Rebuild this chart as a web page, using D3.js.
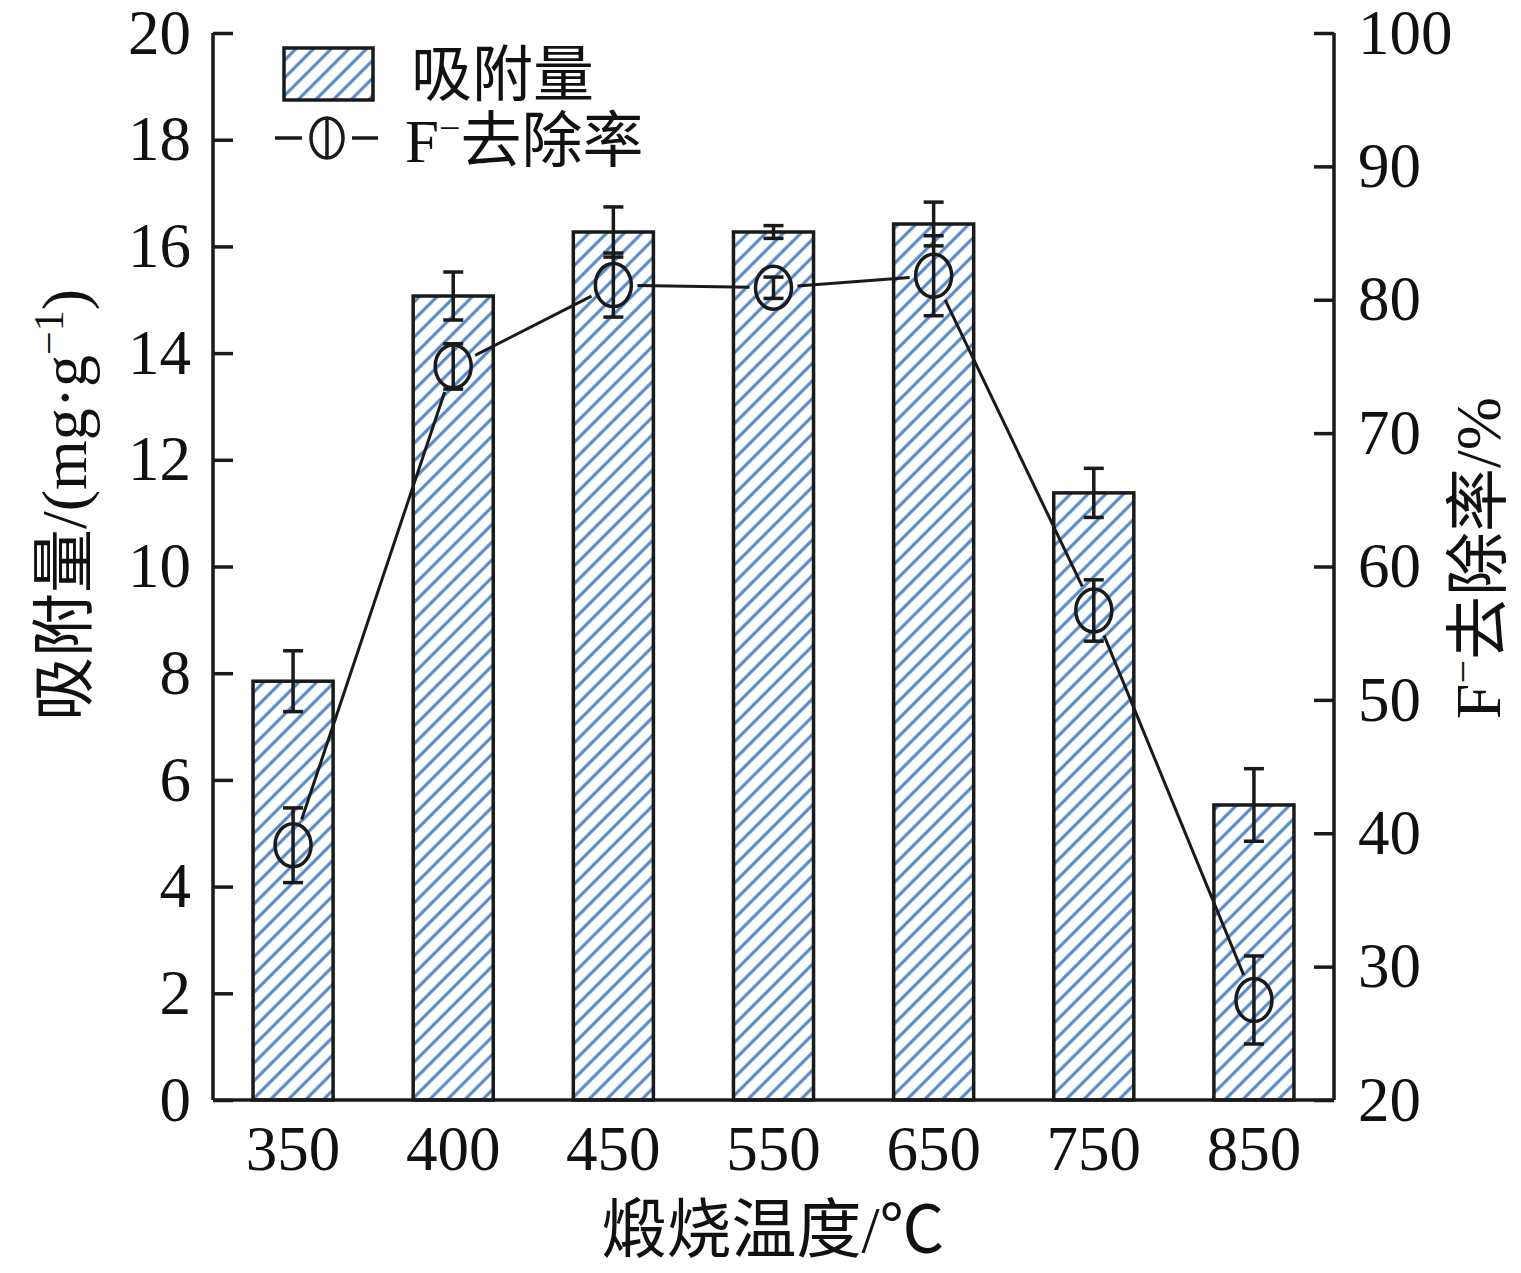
<!DOCTYPE html>
<html><head><meta charset="utf-8">
<script src="https://cdn.jsdelivr.net/npm/d3@7"></script>
<style>
body{margin:0;background:#fff;}
text{font-family:"Liberation Serif","Times New Roman","Noto Sans CJK SC",serif;fill:#111;}
</style></head>
<body>
<svg id="c" width="1521" height="1273"></svg>
<script>
const categories = ["350","400","450","550","650","750","850"];
const adsorption = [7.85, 15.07, 16.27, 16.27, 16.42, 11.38, 5.53];
const adsorptionErr = [0.57, 0.45, 0.47, 0.12, 0.41, 0.46, 0.68];
const removal = [39.1, 75.0, 81.1, 80.9, 81.8, 56.7, 27.5];
const removalErr = [2.8, 1.7, 2.4, 0.8, 3.0, 2.3, 3.3];
const leftTicks = [0,2,4,6,8,10,12,14,16,18,20];
const rightTicks = [20,30,40,50,60,70,80,90,100];

const svg = d3.select("#c");
const L = 213, R = 1334, T = 33, B = 1100;
const ink = "#1a1a1a";
const hatch = "#5b8cc8";
const SW = 3.5;

const x = d3.scaleBand().domain(categories).range([L, R]).paddingInner(0.5).paddingOuter(0.25);
const yL = d3.scaleLinear().domain([0,20]).range([B, T]);
const yR = d3.scaleLinear().domain([20,100]).range([B, T]);

// hatch pattern
const P = 12.5;
const defs = svg.append("defs");
const pat = defs.append("pattern").attr("id","hatch").attr("patternUnits","userSpaceOnUse")
  .attr("width",P).attr("height",P).attr("patternTransform","rotate(45)");
pat.append("rect").attr("width",P).attr("height",P).attr("fill","#fff");
pat.append("line").attr("x1",P/2).attr("y1",0).attr("x2",P/2).attr("y2",P)
  .attr("stroke",hatch).attr("stroke-width",3.2);

// bars
svg.append("g").selectAll("rect").data(categories).join("rect")
  .attr("x", d => x(d)).attr("width", x.bandwidth())
  .attr("y", (d,i) => yL(adsorption[i])).attr("height", (d,i) => yL(0)-yL(adsorption[i]))
  .attr("fill","url(#hatch)").attr("stroke",ink).attr("stroke-width",SW);

// bar error bars
const cap = 10;
const be = svg.append("g").attr("stroke",ink).attr("stroke-width",SW);
categories.forEach((d,i) => {
  const cx = x(d)+x.bandwidth()/2;
  const y1 = yL(adsorption[i]+adsorptionErr[i]), y2 = yL(adsorption[i]-adsorptionErr[i]);
  be.append("line").attr("x1",cx).attr("x2",cx).attr("y1",y1).attr("y2",y2);
  be.append("line").attr("x1",cx-cap).attr("x2",cx+cap).attr("y1",y1).attr("y2",y1);
  be.append("line").attr("x1",cx-cap).attr("x2",cx+cap).attr("y1",y2).attr("y2",y2);
});

// line with gaps
const rx = 18, ry = 21.5, gap = 6;
const pts = categories.map((d,i) => [x(d)+x.bandwidth()/2, yR(removal[i])]);
const lg = svg.append("g").attr("stroke",ink).attr("stroke-width",3);
for (let i=0;i<pts.length-1;i++){
  const [x1,y1] = pts[i], [x2,y2] = pts[i+1];
  const dx = x2-x1, dy = y2-y1, len = Math.hypot(dx,dy);
  const ux = dx/len, uy = dy/len;
  const re = 1/Math.sqrt((ux*ux)/(rx*rx)+(uy*uy)/(ry*ry)) + gap;
  lg.append("line").attr("x1",x1+ux*re).attr("y1",y1+uy*re).attr("x2",x2-ux*re).attr("y2",y2-uy*re);
}
// markers + error bars
const mg = svg.append("g").attr("stroke",ink).attr("stroke-width",SW).attr("fill","none");
categories.forEach((d,i) => {
  const [cx,cy] = pts[i];
  const y1 = yR(removal[i]+removalErr[i]), y2 = yR(removal[i]-removalErr[i]);
  mg.append("line").attr("x1",cx).attr("x2",cx).attr("y1",y1).attr("y2",y2);
  mg.append("line").attr("x1",cx-cap).attr("x2",cx+cap).attr("y1",y1).attr("y2",y1);
  mg.append("line").attr("x1",cx-cap).attr("x2",cx+cap).attr("y1",y2).attr("y2",y2);
  mg.append("ellipse").attr("cx",cx).attr("cy",cy).attr("rx",rx).attr("ry",ry);
});

// axes
const FS = "63px";
const axL = svg.append("g").attr("transform",`translate(${L},0)`)
  .call(d3.axisLeft(yL).tickValues(leftTicks).tickSize(-20).tickPadding(22).tickFormat(d3.format("d")));
const axR = svg.append("g").attr("transform",`translate(${R},0)`)
  .call(d3.axisRight(yR).tickValues(rightTicks).tickSize(-20).tickPadding(24).tickFormat(d3.format("d")));
const axB = svg.append("g").attr("transform",`translate(0,${B})`)
  .call(d3.axisBottom(x).tickSize(0).tickPadding(25));
[axL,axR,axB].forEach(a => {
  a.select(".domain").attr("stroke",ink).attr("stroke-width",SW);
  a.selectAll(".tick line").attr("stroke",ink).attr("stroke-width",SW);
  a.selectAll("text").style("font-family","Liberation Serif").style("font-size",FS).attr("fill","#111");
});
axL.select(".domain").attr("d",`M0,${B}V${T}`);
axR.select(".domain").attr("d",`M0,${B}V${T}`);
axB.select(".domain").attr("d",`M${L},0H${R}`);
axB.selectAll("text").attr("dy","0.72em");

// axis titles
svg.append("text").attr("x",773).attr("y",1252).attr("text-anchor","middle")
  .style("font-size","65px").text("煅烧温度/℃");

const tl = svg.append("text").attr("transform","translate(86,505) rotate(-90)")
  .attr("text-anchor","middle").style("font-size","64px");
tl.append("tspan").text("吸附量/(mg·g");
tl.append("tspan").attr("baseline-shift","super").style("font-size","42px").text("−1");
tl.append("tspan").text(")");

const tr = svg.append("text").attr("transform","translate(1500,558) rotate(-90)")
  .attr("text-anchor","middle").style("font-size","64px");
tr.append("tspan").text("F");
tr.append("tspan").attr("baseline-shift","super").style("font-size","42px").text("−");
tr.append("tspan").text("去除率/%");

// legend
const leg = svg.append("g");
leg.append("rect").attr("x",284).attr("y",48).attr("width",89).attr("height",52)
  .attr("fill","url(#hatch)").attr("stroke",ink).attr("stroke-width",SW);
leg.append("text").attr("x",411).attr("y",96).style("font-size","61px").text("吸附量");
leg.append("line").attr("x1",275).attr("x2",302).attr("y1",138).attr("y2",138).attr("stroke",ink).attr("stroke-width",SW);
leg.append("line").attr("x1",352).attr("x2",378).attr("y1",138).attr("y2",138).attr("stroke",ink).attr("stroke-width",SW);
leg.append("ellipse").attr("cx",327).attr("cy",138).attr("rx",16).attr("ry",20)
  .attr("fill","none").attr("stroke",ink).attr("stroke-width",SW);
leg.append("line").attr("x1",327).attr("x2",327).attr("y1",118).attr("y2",158).attr("stroke",ink).attr("stroke-width",SW);
const lt = leg.append("text").attr("x",405).attr("y",162).style("font-size","61px");
lt.append("tspan").text("F");
lt.append("tspan").attr("baseline-shift","super").style("font-size","38px").text("−");
lt.append("tspan").text("去除率");
</script>
</body></html>
